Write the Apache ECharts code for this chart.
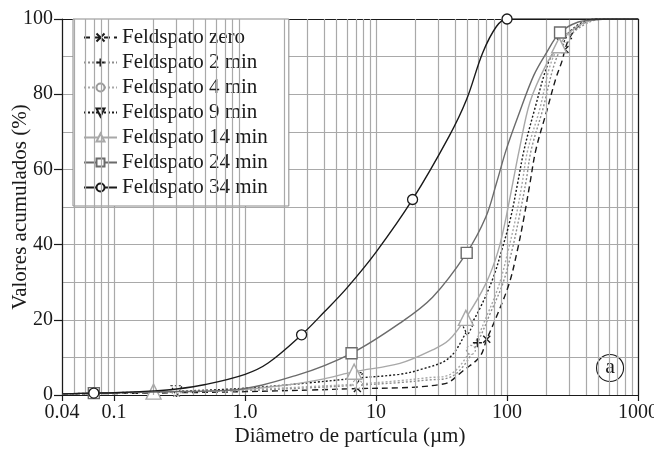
<!DOCTYPE html>
<html>
<head>
<meta charset="utf-8">
<script src="https://cdn.jsdelivr.net/npm/echarts@6/dist/echarts.min.js"></script>
<style>
  html, body { margin: 0; padding: 0; background: #fff; }
  #chart { width: 654px; height: 450px; }
</style>
</head>
<body>
<div id="chart"></div>
<script>
// Cumulative particle size distributions of feldspar for several grinding times.
// Particle diameter (µm) and cumulative value (%) per series; marker positions listed separately.

const seriesNames = ['Feldspato zero', 'Feldspato 2 min', 'Feldspato 4 min', 'Feldspato 9 min',
                     'Feldspato 14 min', 'Feldspato 24 min', 'Feldspato 34 min'];

const dZero = [0.04, 0.1, 0.3, 1, 3, 7.2, 15, 22, 31, 36, 46, 62, 70, 83, 104, 120, 135, 150, 166, 202, 235, 264, 277, 300, 350, 420, 500, 1000];
const vZero = [0.2, 0.4, 0.6, 0.9, 1.3, 1.7, 1.9, 2.2, 2.8, 3.4, 6.4, 10.2, 14.8, 20.8, 29.7, 38.5, 47.4, 56.5, 65.2, 75.8, 84, 89, 91.9, 95, 98, 99.5, 100, 100];
const mkZero = [0.3, 7.2, 70, 277];

const d2 = [0.04, 0.1, 0.3, 1, 3, 7.2, 15, 25, 36, 46, 59.4, 75, 93, 110, 124, 140, 153, 187, 235, 290, 350, 450, 550, 1000];
const v2 = [0.2, 0.5, 0.8, 1.2, 1.9, 2.6, 3.3, 4.0, 4.6, 7.5, 13.9, 22, 29.7, 39, 47.4, 57, 65.2, 75.8, 89, 94.8, 97.5, 99.5, 100, 100];
const mk2 = [0.3, 7.2, 59.4, 290];

const d4 = [0.04, 0.1, 0.3, 1, 3, 7.2, 15, 25, 36, 53, 70, 87.7, 103, 117, 130, 144, 177, 220, 280, 350, 450, 550, 1000];
const v4 = [0.2, 0.5, 0.9, 1.4, 2.2, 2.9, 3.8, 4.6, 5.3, 12, 21, 29.7, 39, 47.4, 56, 65.2, 75.8, 89, 95, 98, 99.7, 100, 100];
const mk4 = [0.3, 7.2, 53, 280];

const d9 = [0.04, 0.1, 0.3, 1, 3, 7.2, 15, 22, 36, 50, 62, 78, 92, 107, 120, 135, 162, 210, 260, 320, 400, 500, 1000];
const v9 = [0.3, 0.6, 1.0, 1.8, 3.2, 4.5, 5.5, 6.8, 9.8, 17.3, 23, 31, 39, 47.4, 56, 65.2, 75.8, 89, 94, 97.5, 99.5, 100, 100];
const mk9 = [0.3, 7.2, 50, 260];

const d14 = [0.04, 0.1, 0.2, 0.8, 2, 4, 6.8, 15.2, 27, 36, 48.5, 69, 85, 98.5, 124, 150, 200, 250, 300, 400, 500, 1000];
const v14 = [0.3, 0.6, 0.9, 1.3, 2.6, 4.3, 6.2, 8.4, 12, 14.6, 20.5, 29.7, 38, 47.4, 65.2, 78, 88, 93, 96.5, 99.3, 100, 100];
const mk14 = [0.2, 6.8, 48.5, 250];

const d24 = [0.04, 0.07, 0.2, 0.78, 2.5, 6.5, 15.2, 27, 49.2, 69, 83, 98.5, 124, 160, 200, 254, 350, 474, 600, 1000];
const v24 = [0.3, 0.5, 0.8, 1.3, 5.3, 11.1, 19.1, 26, 37.8, 47.4, 56.3, 65.2, 75, 85, 91, 96.4, 99.2, 99.8, 100, 100];
const mk24 = [0.07, 6.5, 49.2, 254];

const d34 = [0.04, 0.07, 0.1, 0.2, 0.3, 0.5, 1, 1.5, 2.7, 4, 6, 10, 19, 36, 49, 65, 83, 100, 1000];
const v34 = [0.3, 0.5, 0.6, 1.1, 1.6, 2.8, 5.5, 8.5, 16, 22, 28.5, 38, 52, 68.7, 78.5, 90.9, 98, 100, 100];
const mk34 = [0.07, 2.7, 19, 100];

const xTickValues = [0.04, 0.1, 1, 10, 100, 1000];
const xTickLabels = ['0.04', '0.1', '1.0', '10', '100', '1000'];

// minor log grid: 2..9 within each decade
const decades = [0.01, 0.1, 1, 10, 100];
const multipliers = [2, 3, 4, 5, 6, 7, 8, 9];

const SERIF = '"Liberation Serif", "DejaVu Serif", serif';
const GRID_GREY = '#a9a9a9';
const INK = '#1a1a1a';

const minorX = [];
decades.forEach(dec => multipliers.forEach(m => {
  const v = +(dec * m).toPrecision(6);
  if (v > 0.04 && v < 1000) minorX.push(v);
}));

function pts(ds, vs, marks) {
  return ds.map((d, i) => marks.includes(d)
    ? { value: [d, vs[i]] }
    : { value: [d, vs[i]], symbol: 'none' });
}

function curve(name, ds, vs, marks, opts) {
  return Object.assign({
    type: 'line',
    name: name,
    data: pts(ds, vs, marks),
    smooth: 0.35,
    showSymbol: true,
    animation: false,
    emphasis: { disabled: true },
    clip: true
  }, opts);
}

const series = [
  {
    type: 'line',
    name: 'grid-minor',
    data: [],
    z: 1,
    silent: true,
    animation: false,
    markLine: {
      silent: true,
      animation: false,
      symbol: ['none', 'none'],
      label: { show: false },
      emphasis: { disabled: true },
      lineStyle: { color: GRID_GREY, width: 1.2, type: 'solid' },
      data: minorX.map(v => ({ xAxis: v }))
    }
  },
  curve(seriesNames[0], dZero, vZero, mkZero, {
    z: 3,
    symbol: 'path://M0,0L10,10M10,0L0,10',
    symbolSize: 7,
    lineStyle: { color: INK, width: 1.4, type: [6, 4] },
    itemStyle: { color: INK, borderColor: INK, borderWidth: 1.4 }
  }),
  curve(seriesNames[1], d2, v2, mk2, {
    z: 3,
    symbol: 'path://M5,0L5,10M0,5L10,5',
    symbolSize: 9,
    lineStyle: { color: '#8c8c8c', width: 1.4, type: [2, 2] },
    itemStyle: { color: INK, borderColor: INK, borderWidth: 1.4 }
  }),
  curve(seriesNames[2], d4, v4, mk4, {
    z: 3,
    symbol: 'circle',
    symbolSize: 9,
    lineStyle: { color: '#a8a8a8', width: 1.4, type: [2, 2] },
    itemStyle: { color: '#fff', borderColor: '#9a9a9a', borderWidth: 1.2, borderType: [2, 2] }
  }),
  curve(seriesNames[3], d9, v9, mk9, {
    z: 3,
    symbol: 'triangle',
    symbolRotate: 180,
    symbolSize: 11,
    lineStyle: { color: INK, width: 1.4, type: [2, 2] },
    itemStyle: { color: '#fff', borderColor: INK, borderWidth: 1.2, borderType: [2, 2] }
  }),
  curve(seriesNames[4], d14, v14, mk14, {
    z: 4,
    symbol: 'triangle',
    symbolSize: 15,
    lineStyle: { color: '#a8a8a8', width: 1.4 },
    itemStyle: { color: '#fff', borderColor: '#a8a8a8', borderWidth: 1.4 }
  }),
  curve(seriesNames[5], d24, v24, mk24, {
    z: 5,
    symbol: 'rect',
    symbolSize: 11,
    lineStyle: { color: '#6b6b6b', width: 1.4 },
    itemStyle: { color: '#fff', borderColor: '#6b6b6b', borderWidth: 1.4 }
  }),
  curve(seriesNames[6], d34, v34, mk34, {
    z: 6,
    symbol: 'circle',
    symbolSize: 10,
    lineStyle: { color: INK, width: 1.4 },
    itemStyle: { color: '#fff', borderColor: INK, borderWidth: 1.3 }
  })
];

function xLabel(v) {
  let best = 0;
  xTickValues.forEach((t, i) => {
    if (Math.abs(Math.log10(v) - Math.log10(t)) < Math.abs(Math.log10(v) - Math.log10(xTickValues[best]))) best = i;
  });
  return xTickLabels[best];
}

const chart = echarts.init(document.getElementById('chart'), null, { renderer: 'canvas' });
chart.setOption({
  animation: false,
  backgroundColor: '#fff',
  textStyle: { fontFamily: SERIF },
  grid: { left: 62, right: 16, top: 19, bottom: 55, containLabel: false, outerBoundsMode: 'none' },
  legend: {
    data: seriesNames,
    orient: 'vertical',
    left: 73,
    top: 19,
    backgroundColor: '#fff',
    borderColor: '#8a8a8a',
    borderWidth: 1,
    borderRadius: 0,
    padding: [8, 21, 8, 10],
    itemWidth: 33,
    itemHeight: 10,
    itemGap: 4,
    selectedMode: false,
    textStyle: { fontFamily: SERIF, fontSize: 21, color: INK, lineHeight: 21 }
  },
  xAxis: [
    {
      type: 'log',
      logBase: 10,
      min: 0.04,
      max: 1000,
      name: 'Diâmetro de partícula (µm)',
      nameLocation: 'middle',
      nameGap: 31,
      nameMoveOverlap: false,
      nameTextStyle: { fontFamily: SERIF, fontSize: 21, color: INK },
      axisLine: { show: true, onZero: false, lineStyle: { color: INK, width: 1.2 } },
      axisTick: { show: true, inside: false, length: 6, lineStyle: { color: INK, width: 1.2 } },
      axisLabel: { fontFamily: SERIF, fontSize: 20, color: INK, margin: 8, formatter: xLabel },
      splitLine: { show: true, lineStyle: { color: GRID_GREY, width: 1.2 } },
      minorTick: { show: false },
      minorSplitLine: { show: false }
    },
    {
      type: 'log',
      logBase: 10,
      min: 0.04,
      max: 1000,
      position: 'top',
      axisLine: { show: true, onZero: false, lineStyle: { color: INK, width: 1.2 } },
      axisTick: { show: false },
      axisLabel: { show: false },
      splitLine: { show: false }
    }
  ],
  yAxis: [
    {
      type: 'value',
      min: 0,
      max: 100,
      interval: 20,
      name: 'Valores acumulados (%)',
      nameLocation: 'middle',
      nameGap: 31,
      nameMoveOverlap: false,
      nameTextStyle: { fontFamily: SERIF, fontSize: 21, color: INK },
      axisLine: { show: true, onZero: false, lineStyle: { color: INK, width: 1.2 } },
      axisTick: { show: true, inside: false, length: 8, lineStyle: { color: INK, width: 1.2 } },
      axisLabel: { fontFamily: SERIF, fontSize: 20, color: INK, margin: 9 },
      splitLine: { show: true, lineStyle: { color: GRID_GREY, width: 1.2 } },
      minorTick: { show: false, splitNumber: 2 },
      minorSplitLine: { show: true, lineStyle: { color: GRID_GREY, width: 1.2 } }
    },
    {
      type: 'value',
      min: 0,
      max: 100,
      position: 'right',
      axisLine: { show: true, onZero: false, lineStyle: { color: INK, width: 1.2 } },
      axisTick: { show: false },
      axisLabel: { show: false },
      splitLine: { show: false }
    }
  ],
  graphic: [
    {
      type: 'group',
      left: 596,
      top: 354,
      z: 100,
      children: [
        { type: 'circle', shape: { cx: 13.5, cy: 13.5, r: 13.5 }, style: { fill: '#fff', stroke: INK, lineWidth: 1.1 } },
        { type: 'text', x: 13.5, y: 13, style: { text: 'a', font: '22px ' + SERIF, fill: INK, align: 'center', verticalAlign: 'middle' } }
      ]
    }
  ],
  series: series
});
</script>
</body>
</html>
